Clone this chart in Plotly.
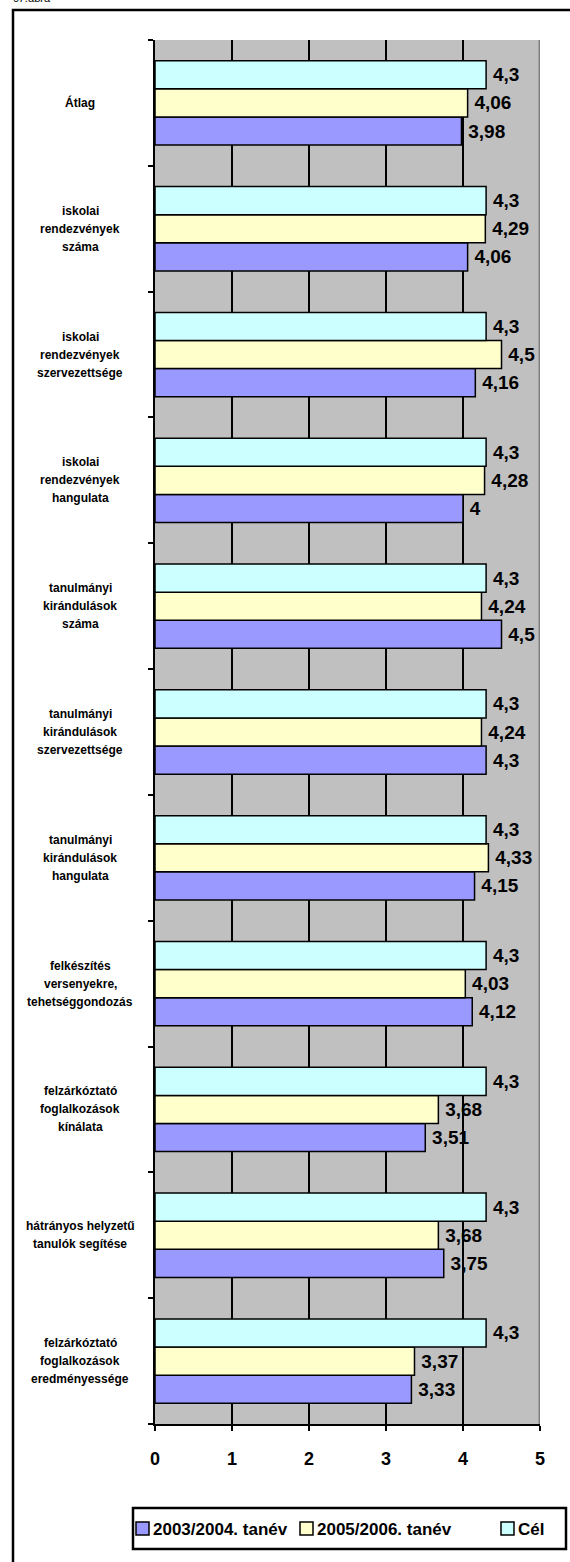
import plotly.graph_objects as go

# categories from top to bottom, as in the chart
categories = [
    "Átlag",
    "iskolai<br>rendezvények<br>száma",
    "iskolai<br>rendezvények<br>szervezettsége",
    "iskolai<br>rendezvények<br>hangulata",
    "tanulmányi<br>kirándulások<br>száma",
    "tanulmányi<br>kirándulások<br>szervezettsége",
    "tanulmányi<br>kirándulások<br>hangulata",
    "felkészítés<br>versenyekre,<br>tehetséggondozás",
    "felzárkóztató<br>foglalkozások<br>kínálata",
    "hátrányos helyzetű<br>tanulók segítése",
    "felzárkóztató<br>foglalkozások<br>eredményessége",
]
tanev_2003 = [3.98, 4.06, 4.16, 4.0, 4.5, 4.3, 4.15, 4.12, 3.51, 3.75, 3.33]
tanev_2005 = [4.06, 4.29, 4.5, 4.28, 4.24, 4.24, 4.33, 4.03, 3.68, 3.68, 3.37]
cel = [4.3, 4.3, 4.3, 4.3, 4.3, 4.3, 4.3, 4.3, 4.3, 4.3, 4.3]

series_names = ["2003/2004. tanév", "2005/2006. tanév", "Cél"]
series_colors = ["#9999FF", "#FFFFCC", "#CCFFFF"]
x_ticks = [0, 1, 2, 3, 4, 5]

FONT = "Liberation Sans, Arial, sans-serif"

# pixel layout helpers
W, H = 570, 1562
L, R, T, B = 155, 540, 40, 1424


def px_x(px):
    return (px - L) / (R - L)


def px_y(py):
    return (B - py) / (B - T)


def fmt(v):
    return f"{v:g}".replace(".", ",")


fig = go.Figure()
for name, vals, color in zip(series_names, [tanev_2003, tanev_2005, cel], series_colors):
    fig.add_trace(go.Bar(
        y=categories,
        x=vals,
        name=name,
        orientation="h",
        marker=dict(color=color, line=dict(color="black", width=1.5)),
        text=["\u2009" + fmt(v) for v in vals],
        textposition="outside",
        textfont=dict(family=FONT, size=19, color="black", weight="bold"),
        cliponaxis=False,
        showlegend=False,
    ))

# centred category labels, one annotation per line for the wider line spacing
for c in categories:
    lines = c.split("<br>")
    for i, line in enumerate(lines):
        fig.add_annotation(
            x=px_x(80), xref="paper", y=c, yref="y",
            yshift=-(i - (len(lines) - 1) / 2) * 18,
            text=line, showarrow=False, xanchor="center",
            font=dict(family=FONT, size=12, color="black", weight="bold"),
        )

# outer frame and caption
fig.add_shape(type="rect", xref="paper", yref="paper",
              x0=px_x(13), x1=px_x(600), y0=px_y(1600), y1=px_y(10),
              line=dict(color="black", width=2.5), layer="below")
fig.add_annotation(x=px_x(11), xref="paper", y=px_y(-2), yref="paper",
                   text="67.ábra", showarrow=False, xanchor="left", yanchor="middle",
                   font=dict(family=FONT, size=11, color="black", style="italic"))
# right edge shadow
fig.add_shape(type="line", xref="x", yref="paper", x0=5, x1=5, y0=0, y1=1,
              line=dict(color="#808080", width=3))

# legend drawn by hand: box, small squares and labels
fig.add_shape(type="rect", xref="paper", yref="paper",
              x0=px_x(133), x1=px_x(566), y0=px_y(1549), y1=px_y(1508),
              line=dict(color="black", width=2.5), fillcolor="white")
legend_sq = [136, 300, 501]
for name, color, sx in zip(series_names, series_colors, legend_sq):
    fig.add_shape(type="rect", xref="paper", yref="paper",
                  x0=px_x(sx), x1=px_x(sx + 13), y0=px_y(1535), y1=px_y(1522),
                  line=dict(color="black", width=1.5), fillcolor=color)
    fig.add_annotation(x=px_x(sx + 15), xref="paper", y=px_y(1529), yref="paper",
                       text=name, showarrow=False, xanchor="left", yanchor="middle",
                       font=dict(family=FONT, size=17, color="black", weight="bold"))

fig.update_layout(
    width=W, height=H,
    margin=dict(l=L, r=W - R, t=T, b=H - B),
    paper_bgcolor="white",
    plot_bgcolor="#C0C0C0",
    barmode="group",
    bargap=0.33,
    bargroupgap=0,
    font=dict(family=FONT, color="black"),
    showlegend=False,
    xaxis=dict(
        range=[0, 5], tickvals=x_ticks,
        showgrid=True, gridcolor="black", gridwidth=2,
        zeroline=False,
        showline=True, linecolor="black", linewidth=2,
        ticks="outside", ticklen=5, tickwidth=2, tickcolor="black",
        ticklabelstandoff=12,
        tickfont=dict(family=FONT, size=18, color="black", weight="bold"),
    ),
    yaxis=dict(
        type="category",
        categoryorder="array", categoryarray=categories[::-1],
        showticklabels=False,
        showline=True, linecolor="black", linewidth=2,
        ticks="outside", tickson="boundaries", ticklen=5, tickwidth=2, tickcolor="black",
        showgrid=False,
    ),
)

fig.write_html("out.html", config={"displayModeBar": False},
               post_script="document.body.style.margin = '0';")
